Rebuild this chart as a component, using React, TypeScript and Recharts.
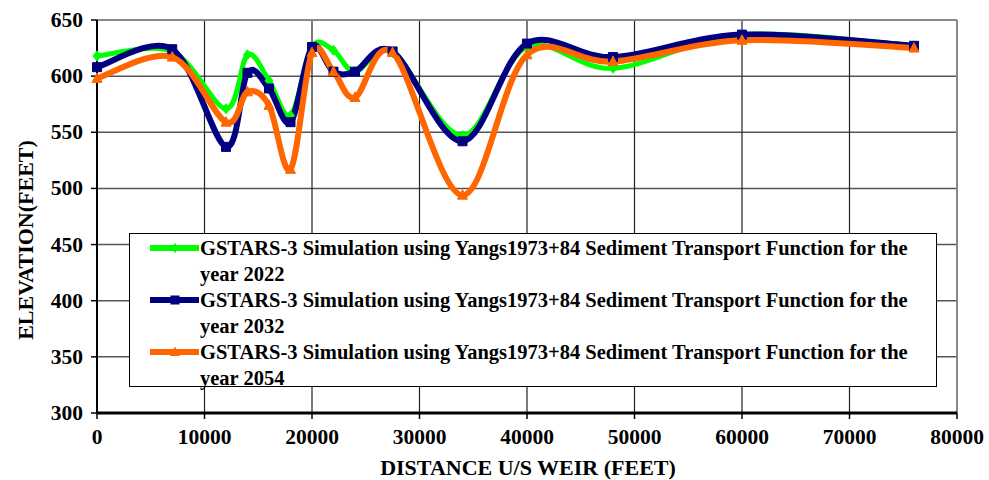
import { CartesianGrid, Label, Legend, Line, LineChart, ReferenceLine, XAxis, YAxis } from "recharts"

// distance upstream of weir (ft) and bed elevation (ft) per simulated year
const distance = [0, 7000, 12000, 14000, 16000, 18000, 20000, 22000, 24000, 27500, 34000, 40000, 48000, 60000, 76000]
const elev2022 = [618, 622, 571, 619, 596, 565, 626, 623, 604, 621, 547, 626, 607, 637, 627]
const elev2032 = [608, 624, 537, 603, 589, 559, 626, 604, 604, 622, 542, 629, 617, 637, 627]
const elev2054 = [598, 617, 559, 586, 574, 517, 621, 604, 581, 621, 494, 619, 613, 632, 625]

const seriesKeys = ["y2022", "y2032", "y2054"]
const seriesNames = [
  "GSTARS-3 Simulation using Yangs1973+84 Sediment Transport Function for the",
  "GSTARS-3 Simulation using Yangs1973+84 Sediment Transport Function for the",
  "GSTARS-3 Simulation using Yangs1973+84 Sediment Transport Function for the",
]
const seriesYears = ["year 2022", "year 2032", "year 2054"]
const seriesColors = ["#00ff00", "#000080", "#ff6600"]
const seriesMarkers = ["diamond", "square", "triangle"]

const xTicks = [0, 10000, 20000, 30000, 40000, 50000, 60000, 70000, 80000]
const yTicks = [300, 350, 400, 450, 500, 550, 600, 650]

const data = distance.map((d, i) => ({
  distance: d,
  y2022: elev2022[i],
  y2032: elev2032[i],
  y2054: elev2054[i],
}))

const FONT = "'Liberation Serif', 'Times New Roman', serif"

// Excel-style smoothed line (Catmull-Rom as cubic beziers)
function excelSmooth(context: any) {
  let xs: number[] = []
  let ys: number[] = []
  return {
    areaStart() {},
    areaEnd() {},
    lineStart() {
      xs = []
      ys = []
    },
    point(x: number, y: number) {
      xs.push(+x)
      ys.push(+y)
    },
    lineEnd() {
      const n = xs.length
      if (!n) return
      context.moveTo(xs[0], ys[0])
      for (let i = 0; i < n - 1; i++) {
        const p = Math.max(i - 1, 0)
        const q = Math.min(i + 2, n - 1)
        context.bezierCurveTo(
          xs[i] + (xs[i + 1] - xs[p]) / 6,
          ys[i] + (ys[i + 1] - ys[p]) / 6,
          xs[i + 1] - (xs[q] - xs[i]) / 6,
          ys[i + 1] - (ys[q] - ys[i]) / 6,
          xs[i + 1],
          ys[i + 1]
        )
      }
    },
  }
}

function markerPath(kind: string, cx: number, cy: number) {
  if (kind === "diamond") return `M${cx},${cy - 5}L${cx + 4},${cy}L${cx},${cy + 5}L${cx - 4},${cy}Z`
  if (kind === "square") return `M${cx - 4.5},${cy - 4.5}h9v9h-9Z`
  return `M${cx},${cy - 5.5}L${cx + 5},${cy + 4}L${cx - 5},${cy + 4}Z`
}

function makeDot(kind: string, color: string) {
  return (props: any) => {
    const { cx, cy, index } = props
    if (cx == null || cy == null) return <g key={index} />
    return <path key={index} d={markerPath(kind, cx, cy)} fill={color} stroke={color} strokeWidth={1} />
  }
}

function XTick(props: any) {
  const { x, y, payload } = props
  return (
    <text x={x} y={y + 15} textAnchor="middle" fontFamily={FONT} fontWeight="bold" fontSize={21.5} fill="#000">
      {payload.value}
    </text>
  )
}

function YTick(props: any) {
  const { x, y, payload } = props
  return (
    <text x={x} y={y} textAnchor="end" dominantBaseline="central" fontFamily={FONT} fontWeight="bold" fontSize={21.5} fill="#000">
      {payload.value}
    </text>
  )
}

function LegendBox() {
  return (
    <div
      style={{
        boxSizing: "border-box",
        width: 808,
        height: 154,
        border: "1px solid #000",
        background: "#fff",
        paddingTop: 1,
        fontFamily: FONT,
        fontWeight: "bold",
        fontSize: 20.5,
        lineHeight: "26px",
        color: "#000",
      }}
    >
      {seriesKeys.map((key, i) => (
        <div key={key} style={{ display: "flex" }}>
          <svg width={70} height={26} style={{ flex: "none" }}>
            <line x1={20} y1={13} x2={69} y2={13} stroke={seriesColors[i]} strokeWidth={6} />
            <path d={markerPath(seriesMarkers[i], 45, 13)} fill={seriesColors[i]} />
          </svg>
          <div>
            <div style={{ whiteSpace: "nowrap" }}>{seriesNames[i]}</div>
            <div>{seriesYears[i]}</div>
          </div>
        </div>
      ))}
    </div>
  )
}

export default function App() {
  return (
    <div style={{ position: "absolute", left: 0, top: 0, width: 989, height: 480, background: "#fff" }}>
      <LineChart width={989} height={480} data={data} margin={{ top: 20, right: 32, bottom: 17, left: 0 }}>
        <CartesianGrid horizontal={true} vertical={false} stroke="#555" strokeWidth={1.5} />
        <CartesianGrid horizontal={false} vertical={true} stroke="#222" strokeWidth={1.2} />
        <ReferenceLine y={650} stroke="#888" strokeWidth={2} />
        <ReferenceLine x={80000} stroke="#888" strokeWidth={2} />
        <XAxis
          dataKey="distance"
          type="number"
          domain={[0, 80000]}
          ticks={xTicks}
          interval={0}
          height={50}
          tickSize={6}
          tickMargin={10}
          axisLine={{ stroke: "#000", strokeWidth: 3 }}
          tickLine={{ stroke: "#000", strokeWidth: 1.5 }}
          tick={<XTick />}
        >
          <Label
            content={() => (
              <text x={528} y={475} textAnchor="middle" fontFamily={FONT} fontWeight="bold" fontSize={22} fill="#000">
                DISTANCE U/S WEIR (FEET)
              </text>
            )}
          />
        </XAxis>
        <YAxis
          type="number"
          domain={[300, 650]}
          ticks={yTicks}
          interval={0}
          width={97}
          tickSize={6}
          tickMargin={8}
          axisLine={{ stroke: "#000", strokeWidth: 2 }}
          tickLine={{ stroke: "#000", strokeWidth: 1.5 }}
          tick={<YTick />}
        >
          <Label
            content={() => (
              <text
                x={25}
                y={240}
                transform="rotate(-90 25 240)"
                textAnchor="middle"
                dominantBaseline="central"
                fontFamily={FONT}
                fontWeight="bold"
                fontSize={22}
                fill="#000"
              >
                ELEVATION(FEET)
              </text>
            )}
          />
        </YAxis>
        {seriesKeys.map((key, i) => (
          <Line
            key={key}
            dataKey={key}
            name={seriesYears[i]}
            type={excelSmooth as any}
            stroke={seriesColors[i]}
            strokeWidth={i === 0 ? 5 : 6}
            dot={makeDot(seriesMarkers[i], seriesColors[i])}
            activeDot={false}
            isAnimationActive={false}
          />
        ))}
        <Legend
          layout="vertical"
          align="center"
          verticalAlign="middle"
          content={() => <LegendBox />}
          wrapperStyle={{ left: 129, top: 233, width: 808, height: 154 }}
        />
      </LineChart>
    </div>
  )
}
